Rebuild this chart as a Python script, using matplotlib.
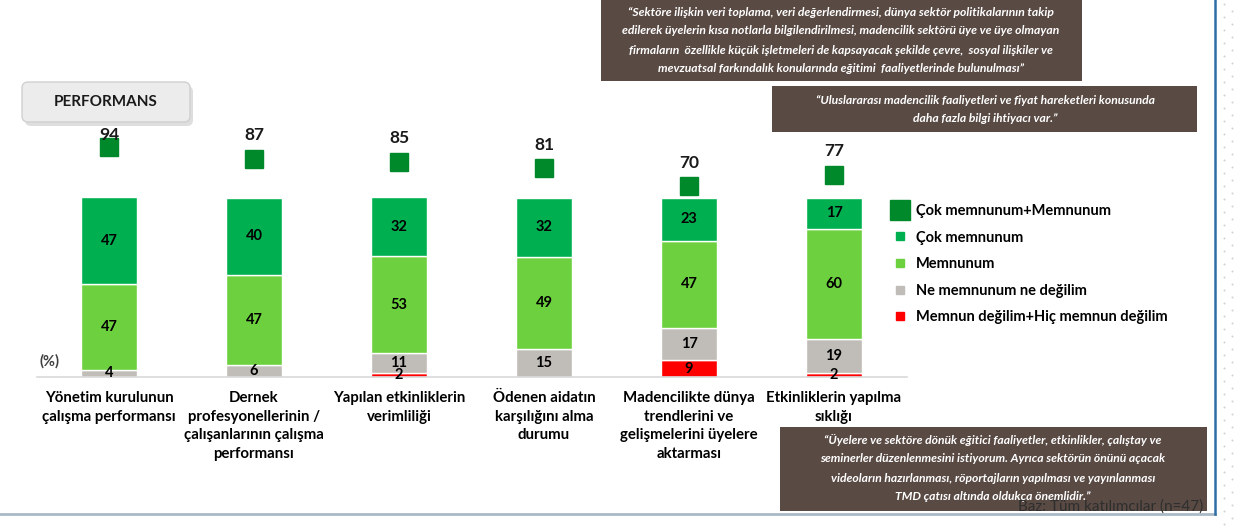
import numpy as np
import matplotlib
matplotlib.use("Agg")
import matplotlib.pyplot as plt
from matplotlib.patches import Rectangle, FancyBboxPatch
from matplotlib.lines import Line2D

plt.rcParams['font.family'] = ['Lato', 'DejaVu Sans']

# veriler
kategoriler = ['Yönetim kurulunun\nçalışma performansı',
               'Dernek\nprofesyonellerinin /\nçalışanlarının çalışma\nperformansı',
               'Yapılan etkinliklerin\nverimliliği',
               'Ödenen aidatın\nkarşılığını alma\ndurumu',
               'Madencilikte dünya\ntrendlerini ve\ngelişmelerini üyelere\naktarması',
               'Etkinliklerin yapılma\nsıklığı']
degil = [0, 0, 2, 0, 9, 2]
ne_ne = [4, 6, 11, 15, 17, 19]
memnun = [47, 47, 53, 49, 47, 60]
cok_memnun = [47, 40, 32, 32, 23, 17]
toplam = [94, 87, 85, 81, 70, 77]

seri_adlari = ['Memnun değilim+Hiç memnun değilim', 'Ne memnunum ne değilim',
               'Memnunum', 'Çok memnunum']
renkler = ['#FF0000', '#C0BCB8', '#6DD13F', '#00B050']
koyu_yesil = '#00892A'

W, H = 1236, 528
fig = plt.figure(figsize=(W / 100, H / 100), dpi=100)

# ana grafik (%100 yigilmis)
ax = fig.add_axes([36.5 / W, 151 / H, 870 / W, 257 / H])
x = np.arange(len(kategoriler))
seriler = [degil, ne_ne, memnun, cok_memnun]
toplamlar = np.array(seriler).sum(axis=0)
alt = np.zeros(len(x))
for vals, renk in zip(seriler, renkler):
    v = np.array(vals, dtype=float)
    h = v / toplamlar * 100
    ax.bar(x, h, bottom=alt, width=0.39, color=renk, edgecolor='white', linewidth=1.0, zorder=2)
    for xi, b, hi, vi in zip(x, alt, h, vals):
        if vi > 0:
            ax.text(xi, b + hi / 2, str(vi), ha='center', va='center',
                    fontsize=10.5, fontweight='bold', color='black', zorder=4)
    alt += h

ax.set_xlim(-0.5, len(x) - 0.5)
ax.set_ylim(0, 257 / 179.5 * 100)
ax.set_xticks(x)
ax.set_xticklabels(kategoriler, fontsize=10.8, fontweight='bold', linespacing=1.42)
ax.tick_params(axis='x', length=0, pad=10)
ax.set_yticks([])
for s in ['top', 'right', 'left']:
    ax.spines[s].set_visible(False)
ax.spines['bottom'].set_color('#D9D9D9')
ax.spines['bottom'].set_linewidth(1.2)
ax.patch.set_alpha(0)

# toplam (ikincil eksen)
ax2 = ax.twinx()
ax2.set_ylim(-45.8, 110.4)
ax2.plot(x, toplam, linestyle='none', marker='s', markersize=12.3,
         color=koyu_yesil, zorder=3)
for xi, t in zip(x, toplam):
    ax2.text(xi, min(t + 14.3, 101.3), str(t), ha='center', va='center',
             fontsize=12.5, fontweight='bold', color='#1a1a1a')
ax2.axis('off')

ax.text(-0.476, 9, '(%)', ha='left', va='center', fontsize=10.5,
        fontweight='bold', color='#404040')

# lejant
handles = [Line2D([], [], linestyle='none', marker='s', markersize=14, color=koyu_yesil)]
for renk in renkler[::-1]:
    handles.append(Line2D([], [], linestyle='none', marker='s', markersize=6, color=renk))
etiketler = ['Çok memnunum+Memnunum'] + seri_adlari[::-1]
fig.legend(handles, etiketler, loc='upper left', bbox_to_anchor=(893 / W, 1 - 204 / H),
           frameon=False, prop={'weight': 'bold', 'size': 10.5},
           handlelength=1.0, handletextpad=0.55, labelspacing=0.86, borderpad=0,
           borderaxespad=0)

# yerlesim katmani (piksel koordinatlari)
ov = fig.add_axes([0, 0, 1, 1], zorder=5)
ov.set_xlim(0, W)
ov.set_ylim(H, 0)
ov.axis('off')
ov.patch.set_alpha(0)

kutu_renk = '#594A44'
alintilar = [
    ((601, 0, 481, 81), 841, [12, 31, 50, 68],
     ['“Sektöre ilişkin veri toplama, veri değerlendirmesi, dünya sektör politikalarının takip',
      'edilerek üyelerin kısa notlarla bilgilendirilmesi, madencilik sektörü üye ve üye olmayan',
      'firmaların  özellikle küçük işletmeleri de kapsayacak şekilde çevre,  sosyal ilişkiler ve',
      'mevzuatsal farkındalık konularında eğitimi  faaliyetlerinde bulunulması”']),
    ((772, 86, 425, 46), 985, [100, 119],
     ['“Uluslararası madencilik faaliyetleri ve fiyat hareketleri konusunda',
      'daha fazla bilgi ihtiyacı var.”']),
    ((780, 427, 427, 84), 993, [440, 459, 479, 496],
     ['“Üyelere ve sektöre dönük eğitici faaliyetler, etkinlikler, çalıştay ve',
      'seminerler düzenlenmesini istiyorum. Ayrıca sektörün önünü açacak',
      'videoların hazırlanması, röportajların yapılması ve yayınlanması',
      'TMD çatısı altında oldukça önemlidir.”']),
]
for (bx, by, bw, bh), cx, ys, satirlar in alintilar:
    ov.add_patch(Rectangle((bx, by), bw, bh, facecolor=kutu_renk, edgecolor='none'))
    for yy, s in zip(ys, satirlar):
        ov.text(cx, yy, s, ha='center', va='center', color='white', fontsize=8.7,
                fontweight='bold', fontstyle='italic')

ov.text(1203, 507, 'Baz: Tüm katılımcılar (n=47)', ha='right', va='center',
        fontsize=11, color='#2E2E2E')

# PERFORMANS kutusu
ov.add_patch(FancyBboxPatch((25, 86), 168, 40, boxstyle='round,pad=0,rounding_size=6',
                            facecolor='#C8C8C8', edgecolor='none', alpha=0.6))
ov.add_patch(FancyBboxPatch((22, 82), 168, 40, boxstyle='round,pad=0,rounding_size=6',
                            facecolor='#ECECEC', edgecolor='#D0D0D0', linewidth=1))
ov.text(106, 102, 'PERFORMANS', ha='center', va='center', fontsize=11,
        fontweight='bold', color='#1a1a1a')

# kenar susleri
ov.plot([0, 1215], [514, 514], color='#A9BAC6', linewidth=2)
ov.plot([1215, 1215], [0, 514], color='#2F6EA5', linewidth=1.8)
dx, dy = np.meshgrid([1224, 1232], np.arange(4, 528, 13))
dy = dy + np.array([0, 6.5])
ov.scatter(dx.ravel(), dy.ravel(), s=2, color='#D0D0D0', linewidths=0)

fig.savefig('out.png', dpi=100)
